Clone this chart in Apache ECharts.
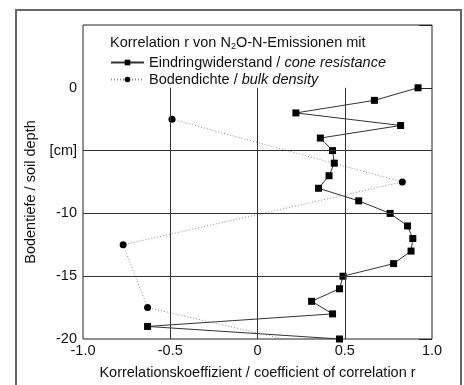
<!DOCTYPE html>
<html>
<head>
<meta charset="utf-8">
<script src="https://cdn.jsdelivr.net/npm/echarts@6/dist/echarts.min.js"></script>
<style>
  html, body { margin: 0; padding: 0; background: #fff; }
  #chart { width: 464px; height: 385px; }
</style>
</head>
<body>
<div id="chart"></div>
<script>
// Eindringwiderstand: r per cm depth
const coneDepth = [0, -1, -2, -3, -4, -5, -6, -7, -8, -9, -10, -11, -12, -13, -14, -15, -16, -17, -18, -19, -20]
const coneR = [0.92, 0.67, 0.22, 0.82, 0.36, 0.43, 0.44, 0.41, 0.35, 0.58, 0.76, 0.86, 0.89, 0.88, 0.78, 0.49, 0.47, 0.31, 0.43, -0.63, 0.47]
// Bodendichte: r per 5 cm layer (last one lies below the axis)
const densDepth = [-2.5, -7.5, -12.5, -17.5, -22.5]
const densR = [-0.49, 0.83, -0.77, -0.63, 0.93]

const xTicks = [-1, -0.5, 0, 0.5, 1]
const refX = [-0.5, 0, 0.5]
const refY = [-5, -10, -15]

const font = 'Liberation Sans, Arial, sans-serif'
const fs = 14.5
const chart = echarts.init(document.getElementById('chart'))

const gridLines = [
  ...refX.map(x => [{ coord: [x, 0] }, { coord: [x, -20] }]),
  ...refY.map(y => [{ coord: [-1, y] }, { coord: [1, y] }]),
]

chart.setOption({
  animation: false,
  textStyle: { fontFamily: font },
  grid: { left: 83, right: 32, top: 25, bottom: 45, show: true, borderColor: '#222', borderWidth: 1 },
  graphic: [
    { type: 'rect', shape: { x: 16, y: 10, width: 445, height: 400 }, style: { fill: 'none', stroke: '#666', lineWidth: 2 } },
    {
      type: 'text', left: 110, top: 35,
      style: {
        text: '{a|Korrelation r von N}{s|2}{a|O-N-Emissionen mit}',
        rich: {
          a: { fontSize: fs, fontFamily: font, fill: '#111', lineHeight: 17 },
          s: { fontSize: 9, fontFamily: font, fill: '#111', verticalAlign: 'bottom', lineHeight: 10, padding: [6, 0, 0, 0] },
        },
      },
    },
  ],
  legend: {
    orient: 'vertical', left: 105, top: 50, itemGap: 2, itemWidth: 33, itemHeight: 7,
    textStyle: { fontSize: fs, color: '#111', fontFamily: font,
      rich: { n: { fontSize: fs, fontFamily: font }, i: { fontSize: fs, fontStyle: 'italic', fontFamily: font } } },
    formatter: name => {
      const [de, en] = name.split(' / ')
      return '{n|' + de + ' / }{i|' + en + '}'
    },
    data: ['Eindringwiderstand / cone resistance', 'Bodendichte / bulk density'],
  },
  xAxis: {
    type: 'value', min: -1, max: 1, interval: 0.5,
    name: 'Korrelationskoeffizient / coefficient of correlation r',
    nameLocation: 'middle', nameGap: 26,
    nameTextStyle: { fontSize: fs, color: '#111' },
    axisLine: { show: false }, axisTick: { show: false }, splitLine: { show: false },
    axisLabel: { fontSize: fs, color: '#111', margin: 4,
      formatter: v => xTicks.includes(v) ? (v === 0 ? '0' : v.toFixed(1)) : '' },
  },
  yAxis: [{
    type: 'value', min: -20, max: 5, interval: 5,
    name: 'Bodentiefe / soil depth',
    nameLocation: 'middle', nameGap: 38,
    nameTextStyle: { fontSize: fs, color: '#111', padding: [0, 20, 0, 0] },
    axisLine: { show: false }, axisTick: { show: false }, splitLine: { show: false },
    axisLabel: { fontSize: fs, color: '#111', margin: 6,
      formatter: v => v === 5 ? '' : (v === -5 ? '[cm]' : String(v)) },
  }, {
    type: 'value', min: -20, max: 5, interval: 5, position: 'right',
    axisLine: { show: false }, axisLabel: { show: false }, splitLine: { show: false },
    axisTick: { show: true, inside: true, length: 13, lineStyle: { color: '#222' } },
  }],
  series: [
    {
      name: 'Eindringwiderstand / cone resistance', type: 'line',
      data: coneR.map((r, i) => [r, coneDepth[i]]),
      symbol: 'rect', symbolSize: 7,
      itemStyle: { color: '#000' },
      lineStyle: { color: '#333', width: 1 },
      z: 3,
      markLine: {
        silent: true, symbol: 'none', label: { show: false },
        lineStyle: { color: '#333', width: 1, type: 'solid' },
        data: gridLines,
      },
    },
    {
      name: 'Bodendichte / bulk density', type: 'line',
      data: densR.map((r, i) => [r, densDepth[i]]),
      symbol: 'circle', symbolSize: 7,
      itemStyle: { color: '#000' },
      lineStyle: { color: '#888', width: 1, type: [1, 2] },
      z: 3,
    },
  ],
})
</script>
</body>
</html>
